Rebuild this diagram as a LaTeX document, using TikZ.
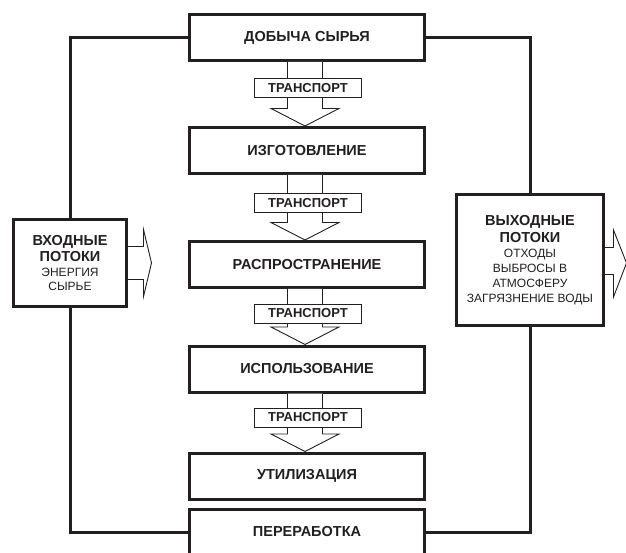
\documentclass[tikz,border=0pt]{standalone}
\usepackage{fontspec}
\setmainfont{Liberation Sans}
\usetikzlibrary{calc,positioning}
\definecolor{color_line}{HTML}{231f20}
\tikzset{
	mainbox/.style={draw=color_line,text=color_line,line width=3pt,fill=white,
		minimum width=235pt,minimum height=46pt,inner sep=0pt,
		font=\bfseries\fontsize{14.5}{17}\selectfont},
	transbox/.style={draw=color_line,text=color_line,line width=0.9pt,fill=white,
		minimum width=107pt,minimum height=19pt,inner sep=0pt,
		font=\bfseries\fontsize{13}{15}\selectfont},
	sidebox/.style={draw=color_line,text=color_line,line width=3pt,fill=white,
		inner sep=0pt,align=center},
	thickline/.style={draw=color_line,line width=3pt},
	thinline/.style={draw=color_line,line width=0.9pt,line join=miter},
}
\newcommand{\sidetitle}[1]{{\bfseries\fontsize{14.5}{17}\selectfont #1}}

\begin{document}
\begin{tikzpicture}[x=1pt,y=1pt]
	\useasboundingbox (0,0) rectangle (626,552);
	% Stages
	\node[mainbox] (dobycha) at (307,514.5) {ДОБЫЧА СЫРЬЯ};
	\node[mainbox] (izgotov) at (307,401.5) {ИЗГОТОВЛЕНИЕ};
	\node[mainbox] (raspr) at (307,287.5) {РАСПРОСТРАНЕНИЕ};
	\node[mainbox] (ispolz) at (307,183) {ИСПОЛЬЗОВАНИЕ};
	\node[mainbox] (utiliz) at (307,76) {УТИЛИЗАЦИЯ};
	\node[mainbox] (pererab) at (307,20) {ПЕРЕРАБОТКА};

	% Transport arrows
	\foreach \up/\down/\t [count=\i] in {dobycha/izgotov/464,izgotov/raspr/349,
			raspr/ispolz/238.5,ispolz/utiliz/134.5} {
		\draw[thinline,fill=white]
			($(\up.south)+(-19.5,0)$) --
			($(\down.north)+(-19.5,17.5)$) --
			($(\down.north)+(-36,17.5)$) --
			($(\down.north)+(-2,0)$) --
			($(\down.north)+(32,17.5)$) --
			($(\down.north)+(15.5,17.5)$) --
			($(\up.south)+(15.5,0)$);
		\node[transbox] (trans\i) at (308,\t) {ТРАНСПОРТ};
	}

	% Input and output flows
	\node[sidebox,minimum width=113pt,minimum height=87pt,
		font=\fontsize{12}{14}\selectfont] (vhod) at (70,289)
		{\sidetitle{ВХОДНЫЕ}\\[2pt]\sidetitle{ПОТОКИ}\\[1pt]ЭНЕРГИЯ\\СЫРЬЕ};
	\node[sidebox,minimum width=147pt,minimum height=131pt,
		font=\fontsize{12}{15}\selectfont] (vyhod) at (530,292)
		{\sidetitle{ВЫХОДНЫЕ}\\[2pt]\sidetitle{ПОТОКИ}\\ОТХОДЫ\\ВЫБРОСЫ В\\АТМОСФЕРУ\\ЗАГРЯЗНЕНИЕ ВОДЫ};

	% Frame lines
	\draw[thickline] (dobycha.west) -| (vhod.north);
	\draw[thickline] (pererab.west) -| (vhod.south);
	\draw[thickline] (dobycha.east) -| (vyhod.north);
	\draw[thickline] (pererab.east) -| (vyhod.south);

	% Side arrows
	\draw[thinline]
		($(vhod.east)+(0,16.5)$) --
		($(vhod.east)+(15.5,16.5)$) --
		($(vhod.east)+(15.5,33.5)$) --
		($(vhod.east)+(23.5,0)$) --
		($(vhod.east)+(15.5,-33.5)$) --
		($(vhod.east)+(15.5,-16.5)$) --
		($(vhod.east)+(0,-16.5)$);
	\draw[thinline]
		($(vyhod.east)+(0,12.5)$) --
		($(vyhod.east)+(8.5,12.5)$) --
		($(vyhod.east)+(8.5,30)$) --
		($(vyhod.east)+(21.5,-3)$) --
		($(vyhod.east)+(8.5,-37)$) --
		($(vyhod.east)+(8.5,-14.5)$) --
		($(vyhod.east)+(0,-14.5)$);
\end{tikzpicture}
\end{document}
